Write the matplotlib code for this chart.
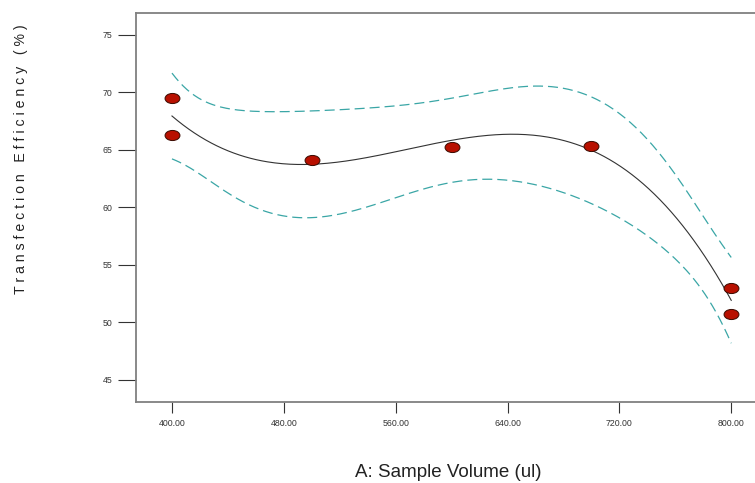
import numpy as np
import matplotlib
matplotlib.use("Agg")
import matplotlib.pyplot as plt
from matplotlib.markers import MarkerStyle
from matplotlib.transforms import Affine2D

plt.rcParams["font.family"] = ["Liberation Sans", "DejaVu Sans"]

# design points
volume = [400, 400, 500, 600, 700, 800, 800]
efficiency = [69.5, 66.3, 64.13, 65.26, 65.35, 53.0, 50.74]

xticks = [400, 480, 560, 640, 720, 800]
yticks = [45, 50, 55, 60, 65, 70, 75]

# cubic fit with 95% confidence band on the mean
x = np.array(volume, dtype=float)
y = np.array(efficiency)
u = (x - 600) / 200
X = np.vander(u, 4)
coef, res, _, _ = np.linalg.lstsq(X, y, rcond=None)
dof = len(y) - 4
s = np.sqrt(np.sum((y - X @ coef) ** 2) / dof)
t_val = 3.182  # t(0.975, 3)
xtx_inv = np.linalg.inv(X.T @ X)

xs = np.linspace(400, 800, 300)
us = (xs - 600) / 200
Xs = np.vander(us, 4)
fit = Xs @ coef
half = t_val * s * np.sqrt(np.einsum("ij,jk,ik->i", Xs, xtx_inv, Xs))

fig = plt.figure(figsize=(7.55, 4.83), dpi=100)
ax = fig.add_axes([0.180, 0.168, 0.820, 0.805])

ax.plot(xs, fit, color="#333333", lw=0.8)
ax.plot(xs, fit + half, color="#3aa6a6", lw=0.9, dashes=(8, 4))
ax.plot(xs, fit - half, color="#3aa6a6", lw=0.9, dashes=(8, 4))

mk = MarkerStyle("o", transform=Affine2D().scale(1.0, 0.68))
ax.scatter(volume, efficiency, marker=mk, s=115, color="#b81000",
           edgecolors="#3a0a00", linewidths=0.7, zorder=3)

ax.set_xlim(374.2, 817)
ax.set_ylim(43.09, 76.9)
ax.set_xticks(xticks)
ax.set_xticklabels(["%.2f" % v for v in xticks])
ax.set_yticks(yticks)

for side in ["top", "left", "bottom"]:
    ax.spines[side].set_color("#808080")
    ax.spines[side].set_linewidth(1.3)
ax.spines["right"].set_visible(False)

ax.tick_params(axis="y", length=13, width=0.8, color="#333333",
               labelsize=6.3, labelcolor="#333333", pad=4)
ax.tick_params(axis="x", length=8, width=0.8, color="#333333",
               labelsize=6.3, labelcolor="#333333", pad=4)

fig.text(0.028, 0.67, "T r a n s f e c t i o n   E f f i c i e n c y   ( % )",
         rotation=90, fontsize=10.2, color="#222222", ha="center", va="center")
fig.text(0.594, 0.021, "A: Sample Volume (ul)", fontsize=13.5,
         color="#222222", ha="center", va="center")

fig.savefig("out.png", dpi=100)
